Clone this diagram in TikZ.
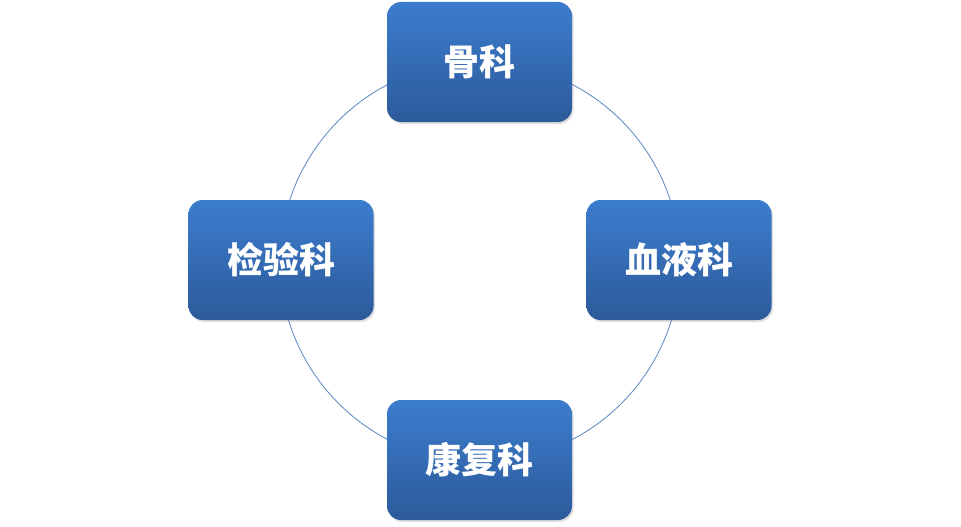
\documentclass[tikz,border=0pt]{standalone}
\usepackage{fontspec}
\newfontfamily\cjk{Noto Sans CJK SC}
\usetikzlibrary{shadows}
\definecolor{btop}{HTML}{3C7DCE}
\definecolor{bbot}{HTML}{2C5A9A}
\definecolor{ring}{HTML}{5A86C0}
\begin{document}
\begin{tikzpicture}[x=1pt,y=-1pt,
 box/.style={rounded corners=14pt,minimum width=185pt,minimum height=120pt,
  top color=btop,bottom color=bbot,draw=none,
  drop shadow={shadow xshift=1.5pt,shadow yshift=-2pt,opacity=0.25},
  text=white,font=\cjk\bfseries\fontsize{36}{40}\selectfont,inner sep=0pt}]
\useasboundingbox (0,0) rectangle (961,527);
\node[circle,draw=ring,line width=0.8pt,minimum size=400pt,inner sep=0pt] (ring) at (480,262) {};
\node[box] (a) at (479.5,62) {骨科};
\node[box] (b) at (679,260) {血液科};
\node[box] (c) at (479.5,460) {康复科};
\node[box] (d) at (281,260) {检验科};
\end{tikzpicture}
\end{document}
